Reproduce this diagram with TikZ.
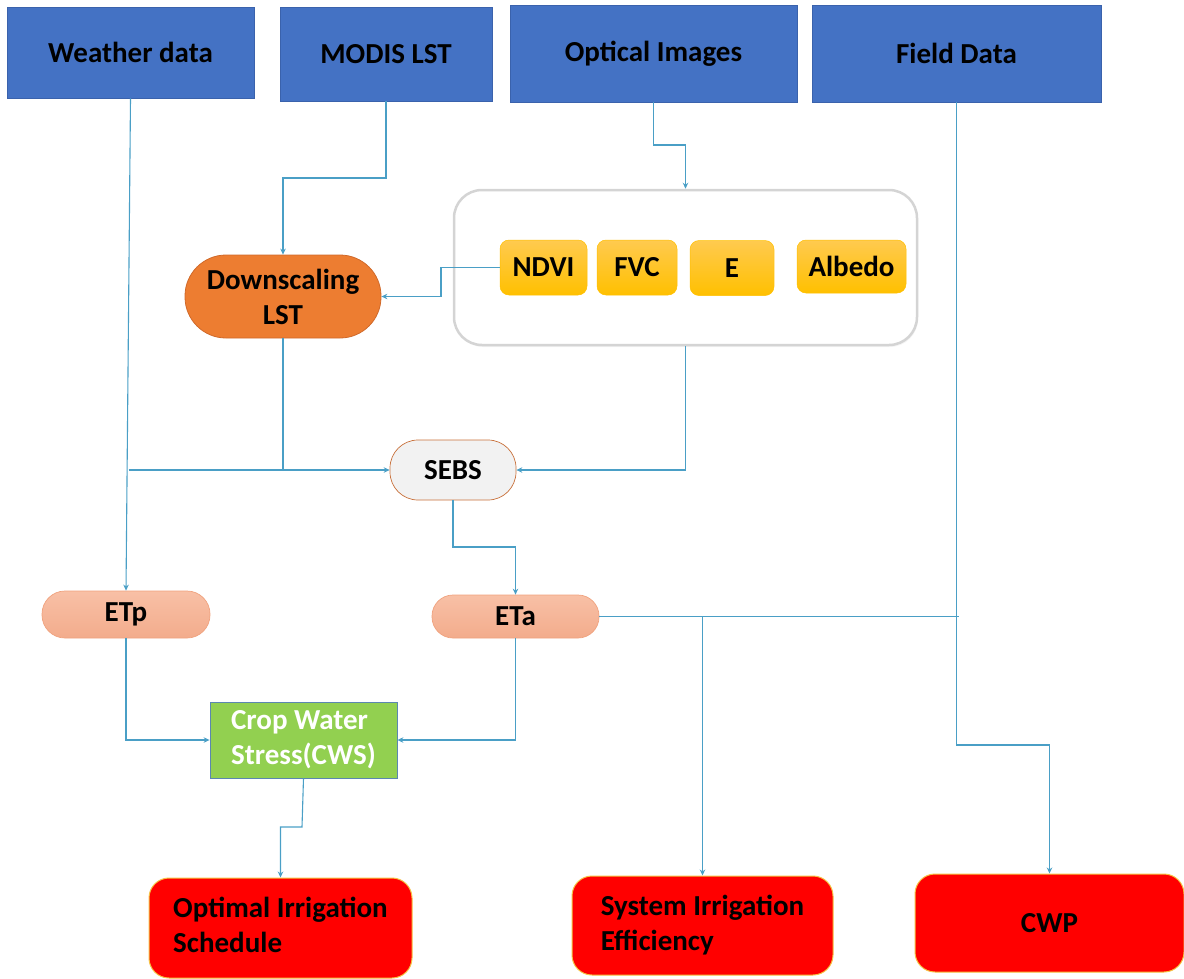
\documentclass[tikz,border=0pt]{standalone}
\usepackage{fontspec}
\setmainfont{Carlito}
\usetikzlibrary{arrows.meta,shadows}
\definecolor{boxblue}{HTML}{4472C4}
\definecolor{boxblueline}{HTML}{3A62AC}
\definecolor{linkblue}{HTML}{4A9FC6}
\definecolor{ylwtop}{HTML}{FFCA4F}
\definecolor{ylwbot}{HTML}{FFC000}
\definecolor{orng}{HTML}{ED7D31}
\definecolor{orngline}{HTML}{D0692A}
\definecolor{salmtop}{HTML}{F8C0A6}
\definecolor{salmbot}{HTML}{F3AC8C}
\definecolor{salmline}{HTML}{F0A27E}
\definecolor{sebsfill}{HTML}{F2F2F2}
\definecolor{sebsline}{HTML}{C8703A}
\definecolor{grn}{HTML}{92D050}
\definecolor{grnline}{HTML}{5B87B0}
\definecolor{redbox}{HTML}{FF0000}
\definecolor{redline}{HTML}{F5C242}
\tikzset{
  every node/.style={font=\fontsize{29}{35}\selectfont\bfseries, align=center, inner sep=0pt},
  srcbox/.style={rectangle, fill=boxblue, draw=boxblueline, line width=0.8pt},
  ybox/.style={rectangle, rounded corners=9pt, top color=ylwtop, bottom color=ylwbot, draw=ylwbot, line width=0.5pt, minimum height=55pt},
  stad/.style={rectangle, rounded corners=#1},
  outbox/.style={rectangle, rounded corners=20pt, fill=redbox, draw=redline, line width=1pt},
  arr/.style={draw=linkblue, line width=1.1pt, -{Stealth[length=6pt,width=5.5pt]}},
  ln/.style={draw=linkblue, line width=1.1pt},
}
\begin{document}
\begin{tikzpicture}[x=1pt,y=-1pt]
\useasboundingbox (0,0) rectangle (1184,978);
% sources
\node[srcbox, minimum width=247pt, minimum height=91pt] (wd) at (130.5,52.5) {Weather data};
\node[srcbox, minimum width=212pt, minimum height=94pt] (modis) at (386,54) {MODIS LST};
\node[srcbox, minimum width=287pt, minimum height=97pt] (opt) at (653.5,53.5) {Optical Images};
\node[srcbox, minimum width=289pt, minimum height=97pt] (fd) at (956.5,53.5) {Field Data};
% container
\node[rectangle, rounded corners=28pt, fill=white, draw=black!17, line width=2.5pt,
      drop shadow={shadow xshift=1pt, shadow yshift=-2pt, fill=black!8},
      minimum width=463pt, minimum height=155pt] (cont) at (685.5,267.5) {};
\node[ybox, minimum width=87pt] (ndvi) at (543.5,267.5) {NDVI};
\node[ybox, minimum width=80pt] (fvc) at (637,267.5) {FVC};
\node[ybox, minimum width=84pt] (e) at (732,268) {E};
\node[ybox, minimum width=109pt, minimum height=53pt] (alb) at (851.5,266.5) {Albedo};
% process
\node[stad=41pt, fill=orng, draw=orngline, line width=0.8pt, minimum width=196pt, minimum height=83pt] (ds) at (283,296.5) {Downscaling\\LST};
\node[stad=28pt, fill=sebsfill, draw=sebsline, line width=0.7pt, minimum width=126pt, minimum height=60pt] (sebs) at (453,470) {SEBS};
\node[stad=23pt, top color=salmtop, bottom color=salmbot, draw=salmline, line width=0.7pt, minimum width=168pt, minimum height=47pt] (etp) at (126,614.5) {ETp};
\node[stad=21pt, top color=salmtop, bottom color=salmbot, draw=salmline, line width=0.7pt, minimum width=167pt, minimum height=43pt] (eta) at (515.5,616.5) {ETa};
\node[rectangle, fill=grn, draw=grnline, line width=0.8pt, text=white, minimum width=187pt, minimum height=76pt] (cws) at (303.5,740) {\begin{tabular}{@{}l@{}}Crop Water\\Stress(CWS)\end{tabular}};
% outputs
\node[outbox, minimum width=263pt, minimum height=100pt] (ois) at (280.5,928) {\begin{tabular}{@{}l@{}}Optimal Irrigation\\Schedule\end{tabular}};
\node[outbox, minimum width=261pt, minimum height=99pt] (sie) at (702.5,925.5) {\begin{tabular}{@{}l@{}}System Irrigation\\Efficiency\end{tabular}};
\node[outbox, minimum width=269pt, minimum height=98pt] (cwp) at (1049.5,923) {CWP};
% coordinates
\coordinate (j1) at (128.5,470);
\coordinate (m1) at (386,178);
\coordinate (o1) at (653.5,145);
\coordinate (n1) at (441,267.5);
\coordinate (s1) at (453,547);
\coordinate (j2) at (959,616.5);
\coordinate (f1) at (956.5,745);
\coordinate (c1) at (302,827);
% connectors
\draw[arr] (wd.south) -- (etp.north);
\draw[arr] (j1) -- (sebs.west);
\draw[ln] (ds.south) -- (ds.south |- sebs.west);
\draw[arr] (modis.south) -- (m1) -| (ds.north);
\draw[arr] (opt.south) -- (o1) -| (cont.north);
\draw[arr] (ndvi.west) -- (n1) |- (ds.east);
\draw[arr] (cont.south) |- (sebs.east);
\draw[arr] (sebs.south) -- (s1) -| (eta.north);
\draw[ln] (eta.east) -- (j2);
\draw[arr] (sie.north |- eta.east) -- (sie.north);
\draw[arr] (fd.south) -- (f1) -| (cwp.north);
\draw[arr] (etp.south) |- (cws.west);
\draw[arr] (eta.south) |- (cws.east);
\draw[arr] (cws.south) -- (c1) -| (ois.north);
\end{tikzpicture}
\end{document}
